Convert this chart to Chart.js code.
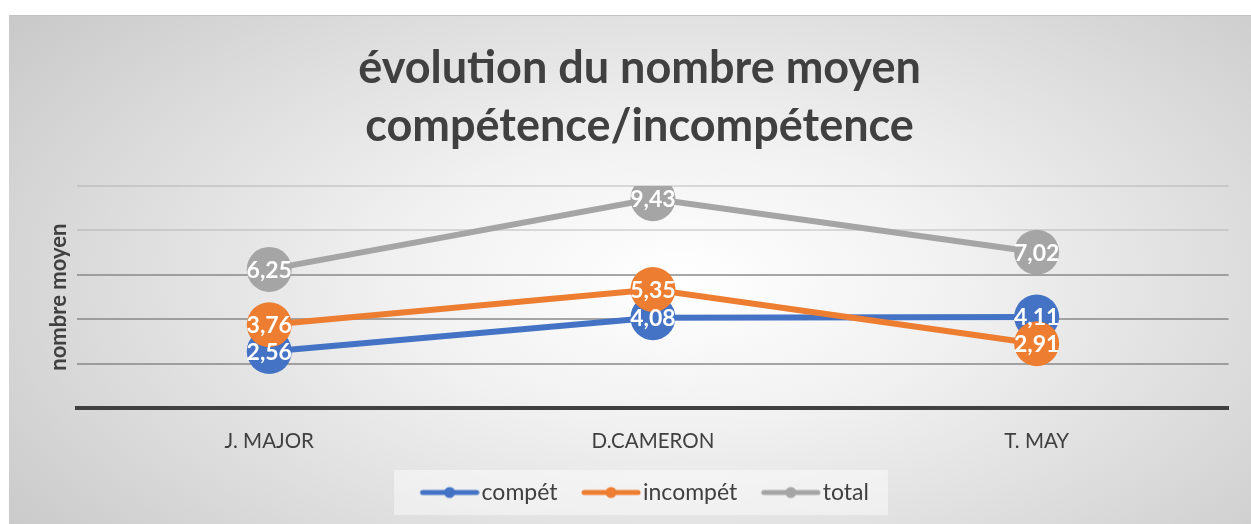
<!DOCTYPE html>
<html>
<head>
<meta charset="utf-8">
<script src="https://cdn.jsdelivr.net/npm/chart.js@4.4.1/dist/chart.umd.min.js"></script>
<style>
    html, body { margin: 0; padding: 0; background: #fff; }
    #frame {
        position: absolute;
        left: 9px; top: 15px;
        width: 1242px; height: 509px;
        border-top: 1px solid #c4c4c4;
        box-sizing: border-box;
        background: radial-gradient(ellipse 75% 95% at 54% 52%, #ffffff 0%, #f1f1f1 30%, #dadada 65%, #c2c2c2 100%);
    }
</style>
</head>
<body>
<div id="frame"><canvas id="chart" width="1242" height="508"></canvas></div>
<script>
// Chart data
const categories = ['J. MAJOR', 'D.CAMERON', 'T. MAY'];
const compet = [2.56, 4.08, 4.11];
const incompet = [3.76, 5.35, 2.91];
const total = [6.25, 9.43, 7.02];
const seriesNames = ['compét', 'incompét', 'total'];
const colors = ['#4472C4', '#ED7D31', '#A5A5A5'];

const FONT = 'Lato, "Open Sans", sans-serif';

// legend marker: line with a dot (left part of the image is empty, it acts as spacing)
function legendMarker(color) {
    const c = document.createElement('canvas');
    c.width = 79;
    c.height = 14;
    const g = c.getContext('2d');
    g.strokeStyle = color;
    g.lineWidth = 5;
    g.lineCap = 'round';
    g.beginPath();
    g.moveTo(22, 7);
    g.lineTo(76, 7);
    g.stroke();
    g.fillStyle = color;
    g.beginPath();
    g.arc(49, 7, 5.5, 0, Math.PI * 2);
    g.fill();
    return c;
}

// white value labels centered in the markers
const valueLabels = {
    id: 'valueLabels',
    afterDatasetsDraw(chart) {
        const ctx = chart.ctx;
        ctx.save();
        ctx.font = 'bold 23px ' + FONT;
        ctx.fillStyle = '#ffffff';
        ctx.textAlign = 'center';
        ctx.textBaseline = 'middle';
        chart.data.datasets.forEach((ds, i) => {
            const meta = chart.getDatasetMeta(i);
            meta.data.forEach((pt, j) => {
                ctx.fillText(ds.data[j].toFixed(2).replace('.', ','), pt.x, pt.y + 1);
            });
        });
        ctx.restore();
    }
};

// faint box behind the legend
const legendBox = {
    id: 'legendBox',
    beforeDraw(chart) {
        const lg = chart.legend;
        if (!lg || !lg.legendHitBoxes.length) return;
        const boxes = lg.legendHitBoxes;
        const x0 = Math.min(...boxes.map(b => b.left)) - 16;
        const x1 = Math.max(...boxes.map(b => b.left + b.width)) + 19;
        const ctx = chart.ctx;
        ctx.save();
        ctx.fillStyle = 'rgba(255,255,255,0.45)';
        ctx.fillRect(x0, boxes[0].top - 11, x1 - x0, boxes[0].height + 22);
        ctx.restore();
    }
};

const datasets = [compet, incompet, total].map((vals, i) => ({
    label: seriesNames[i],
    data: vals,
    borderColor: colors[i],
    backgroundColor: colors[i],
    borderWidth: 6,
    pointRadius: 22.5,
    pointHoverRadius: 22.5,
    pointBorderWidth: 0,
    pointStyle: 'circle',
    tension: 0,
    order: 2 - i
}));

new Chart(document.getElementById('chart'), {
    type: 'line',
    data: { labels: categories, datasets: datasets },
    plugins: [legendBox, valueLabels],
    options: {
        responsive: false,
        animation: false,
        layout: { padding: { left: 37, right: 18, top: 20, bottom: 10 } },
        plugins: {
            title: {
                display: true,
                text: ['évolution du nombre moyen', 'compétence/incompétence'],
                color: '#404040',
                font: { family: FONT, size: 45, weight: 'bold', lineHeight: 1.3 },
                padding: { top: 3, bottom: 30 }
            },
            legend: {
                position: 'bottom',
                labels: {
                    usePointStyle: true,
                    pointStyleWidth: 60,
                    color: '#404040',
                    font: { family: FONT, size: 23 },
                    padding: 14,
                    sort: (a, b) => a.datasetIndex - b.datasetIndex,
                    generateLabels(chart) {
                        return chart.data.datasets.map((ds, i) => ({
                            text: ds.label,
                            datasetIndex: i,
                            pointStyle: legendMarker(colors[i]),
                            fillStyle: colors[i],
                            strokeStyle: colors[i],
                            fontColor: '#404040',
                            lineWidth: 0
                        }));
                    }
                }
            },
            tooltip: { enabled: false }
        },
        scales: {
            x: {
                offset: true,
                grid: { display: false },
                border: { display: true, color: '#404040', width: 4 },
                ticks: {
                    color: '#404040',
                    font: { family: FONT, size: 20.5 },
                    padding: 13
                }
            },
            y: {
                min: 0,
                max: 10,
                ticks: { stepSize: 2, display: false },
                border: { display: false },
                grid: {
                    drawTicks: false,
                    lineWidth: 2,
                    color: ctx => ctx.tick.value === 0 ? 'rgba(0,0,0,0)' :
                        (ctx.tick.value >= 8 ? 'rgba(160,160,160,0.35)' : 'rgba(130,130,130,0.7)')
                },
                title: {
                    display: true,
                    text: 'nombre moyen',
                    color: '#404040',
                    font: { family: FONT, size: 22, weight: 'bold' },
                    padding: { top: 0, bottom: 5 }
                }
            }
        }
    }
});
</script>
</body>
</html>
